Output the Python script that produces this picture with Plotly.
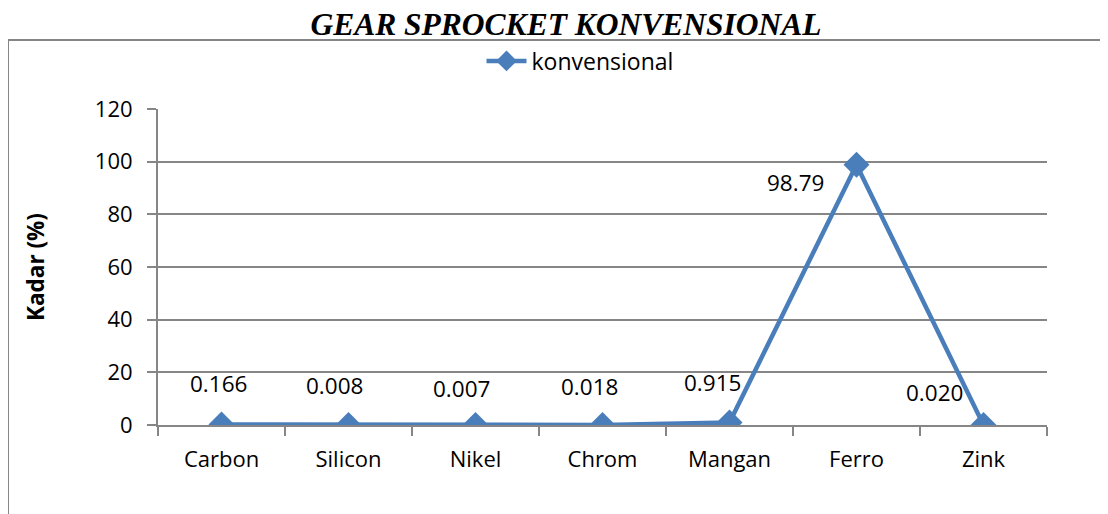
import plotly.graph_objects as go

categories = ["Carbon", "Silicon", "Nikel", "Chrom", "Mangan", "Ferro", "Zink"]
values = [0.166, 0.008, 0.007, 0.018, 0.915, 98.79, 0.020]
value_labels = ["0.166", "0.008", "0.007", "0.018", "0.915", "98.79", "0.020"]
series_name = "konvensional"
y_ticks = [0, 20, 40, 60, 80, 100, 120]

# label offsets in pixels (dx, dy) relative to each point
label_dx = [-3, -14, -14, -13, -17, -61, -49]
label_dy = [41, 39, 36, 38, 40, -18, 32]

OFF = 8  # page body margin
W, H = 1108 - OFF, 514 - OFF
L, R, T, B = 158 - OFF, 1108 - 1047, 109 - OFF, 514 - 425
pw, ph = W - L - R, H - T - B

def px_x(px):
    return (px - OFF - L) / pw

def px_y(py):
    return (H - B - (py - OFF)) / ph

blue = "#4A7EBB"
grey = "#868686"
font = "Open Sans"

fig = go.Figure()
fig.add_trace(go.Scatter(
    x=categories, y=values, mode="lines+markers", name=series_name,
    line=dict(color=blue, width=4.5),
    marker=dict(symbol="diamond", size=20, color=blue),
))

for c, v, t, dx, dy in zip(categories, values, value_labels, label_dx, label_dy):
    fig.add_annotation(x=c, y=v, text=t, showarrow=False, xshift=dx, yshift=dy,
                       font=dict(family=font, size=22.5, color="black"))

fig.add_shape(type="rect", xref="paper", yref="paper",
              x0=px_x(8), x1=px_x(1125), y0=px_y(530), y1=px_y(40),
              line=dict(color=grey, width=2), fillcolor="rgba(0,0,0,0)", layer="below")

fig.update_layout(
    width=W, height=H,
    margin=dict(l=L, r=R, t=T, b=B),
    paper_bgcolor="white", plot_bgcolor="white",
    title=dict(text="<b><i>GEAR SPROCKET KONVENSIONAL</i></b>",
               x=(566 - OFF) / W, xanchor="center", y=1 - (24 - OFF) / H, yanchor="middle",
               font=dict(family="Liberation Serif", size=31.5, color="black")),
    showlegend=True,
    legend=dict(orientation="h", x=px_x(580), xanchor="center", y=px_y(61), yanchor="middle",
                font=dict(family=font, size=23, color="black"), bgcolor="rgba(0,0,0,0)",
                itemwidth=40),
    font=dict(family=font, color="black"),
)

fig.update_xaxes(type="category", showline=True, linecolor=grey, linewidth=2,
                 ticks="outside", tickson="boundaries", ticklen=9, tickcolor=grey, tickwidth=2,
                 ticklabelstandoff=14,
                 showgrid=False, tickfont=dict(family=font, size=22, color="black"),
                 range=[-0.5, 6.5])
fig.update_yaxes(range=[0, 120], tickvals=y_ticks, showline=True, linecolor=grey, linewidth=2,
                 ticks="outside", ticklen=9, tickcolor=grey, tickwidth=2,
                 ticklabelstandoff=10,
                 showgrid=True, gridcolor=grey, gridwidth=1.5, zeroline=False,
                 tickfont=dict(family=font, size=22, color="black"),
                 title=dict(text="<b>Kadar (%)</b>", font=dict(family=font, size=22.5, color="black"),
                            standoff=44))

fig.write_html("out.html")
